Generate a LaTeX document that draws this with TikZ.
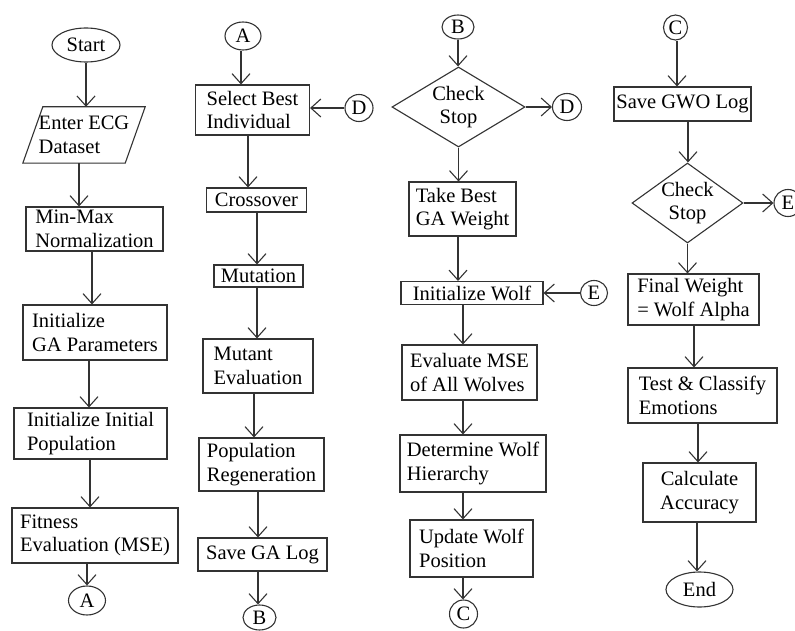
\documentclass[tikz,border=0pt]{standalone}
\usepackage{fontspec}
\setmainfont{Liberation Serif}
\usetikzlibrary{shapes.geometric,arrows.meta}
\newcommand\flowfont{\fontsize{20.5}{23.5}\selectfont}
\definecolor{ink}{gray}{0.2}
\tikzset{
  base/.style={draw=ink, line width=1.1pt, font=\flowfont, text=black},
  proc/.style={base, rectangle, align=left, inner sep=2pt},
  procc/.style={proc, align=center},
  term/.style={base, ellipse, inner sep=0pt},
  conn/.style={base, ellipse, inner sep=0pt},
  decide/.style={base, diamond, aspect=1.5, inner sep=-4pt, align=center},
  % input block: text box whose outline is drawn as a slanted parallelogram
  iobox/.style={rectangle, font=\flowfont, text=black, align=left, inner sep=2pt},
  slant/.style={draw=ink, line width=1.1pt, line join=miter},
  arr/.style={draw=ink, line width=1.1pt, -{Straight Barb[length=10pt,width=18pt]}},
}
\begin{document}
\begin{tikzpicture}[x=1pt,y=-1pt]
\useasboundingbox (0,0) rectangle (795,631);

% ---------- column 1: data preparation and GA initialisation ----------
\node[term, minimum width=68pt, minimum height=34pt] (start) at (86,45) {Start};
\node[iobox, minimum width=102pt, minimum height=56pt] (in) at (84,135) {Enter ECG\\Dataset};
\draw[slant] ([xshift=10pt]in.north west) -- ([xshift=10pt]in.north east)
  -- ([xshift=-10pt]in.south east) -- ([xshift=-10pt]in.south west) -- cycle;
\node[proc, minimum width=137pt, minimum height=44pt] (mm) at (94.5,229) {Min-Max\\Normalization};
\node[proc, minimum width=144pt, minimum height=55pt] (gap) at (95,332.5) {Initialize\\GA Parameters};
\node[proc, minimum width=153pt, minimum height=51pt] (pop) at (90.5,433.5) {Initialize Initial\\Population};
\node[proc, minimum width=166pt, minimum height=55pt] (fit) at (95,535.5) {Fitness\\Evaluation (MSE)};
\node[conn, minimum width=37pt, minimum height=29pt] (A1) at (87,600.5) {A};

\draw[arr] (start.south) -- (start.south |- in.north);
\draw[arr] ([xshift=-5pt]in.south) -- ([xshift=-5pt]in.south |- mm.north);
\draw[arr] ([xshift=-2.5pt]mm.south) -- ([xshift=-2.5pt]mm.south |- gap.north);
\draw[arr] ([xshift=-6pt]gap.south) -- ([xshift=-6pt]gap.south |- pop.north);
\draw[arr] ([xshift=-0.5pt]pop.south) -- ([xshift=-0.5pt]pop.south |- fit.north);
\draw[arr] ([xshift=-8pt]fit.south) -- ([xshift=-8pt]fit.south |- A1.north);

% ---------- column 2: GA loop ----------
\node[conn, minimum width=36pt, minimum height=28pt] (A2) at (243,36) {A};
\node[proc, minimum width=114pt, minimum height=50pt] (sel) at (252.5,110) {Select Best\\Individual};
\node[conn, minimum width=28pt, minimum height=27pt] (D1) at (359,108) {D};
\node[procc, minimum width=100pt, minimum height=24pt] (cross) at (256.5,200) {Crossover};
\node[procc, minimum width=89pt, minimum height=22pt] (mut) at (258.5,276) {Mutation};
\node[proc, minimum width=110pt, minimum height=54pt] (mev) at (258,366) {Mutant\\Evaluation};
\node[proc, minimum width=125pt, minimum height=53pt] (preg) at (261.5,464.5) {Population\\Regeneration};
\node[procc, minimum width=129pt, minimum height=33pt] (sga) at (262.5,554.5) {Save GA Log};
\node[conn, minimum width=33pt, minimum height=25pt] (B1) at (259.5,617.5) {B};

\draw[arr] ([xshift=-2pt]A2.south) -- ([xshift=-2pt]A2.south |- sel.north);
\draw[arr] (D1.west) -- (D1.west -| sel.east);
\draw[arr] ([xshift=-4.5pt]sel.south) -- ([xshift=-4.5pt]sel.south |- cross.north);
\draw[arr] ([xshift=0.5pt]cross.south) -- ([xshift=0.5pt]cross.south |- mut.north);
\draw[arr] ([xshift=-1.5pt]mut.south) -- ([xshift=-1.5pt]mut.south |- mev.north);
\draw[arr] ([xshift=-4pt]mev.south) -- ([xshift=-4pt]mev.south |- preg.north);
\draw[arr] ([xshift=-3.5pt]preg.south) -- ([xshift=-3.5pt]preg.south |- sga.north);
\draw[arr] ([xshift=-4.5pt]sga.south) -- ([xshift=-4.5pt]sga.south |- B1.north);

% ---------- column 3: hand-over to GWO ----------
\node[conn, minimum width=32pt, minimum height=24pt] (B2) at (458,27) {B};
\node[decide, minimum width=133pt, minimum height=80pt] (cs1) at (458.5,107) {Check\\Stop};
\node[conn, minimum width=29pt, minimum height=27pt] (D2) at (567,107) {D};
\node[proc, minimum width=107pt, minimum height=54pt] (tb) at (462.5,209) {Take Best\\GA Weight};
\node[procc, minimum width=142pt, minimum height=23pt] (iw) at (472,293) {Initialize Wolf};
\node[conn, minimum width=27pt, minimum height=25pt] (E1) at (594,293) {E};
\node[proc, minimum width=135pt, minimum height=55pt] (ev) at (469.5,372.5) {Evaluate MSE\\of All Wolves};
\node[proc, minimum width=146pt, minimum height=57pt] (dh) at (473,463.5) {Determine Wolf\\Hierarchy};
\node[proc, minimum width=123pt, minimum height=57pt] (uw) at (471.5,548.5) {Update Wolf\\Position};
\node[conn, minimum width=28pt, minimum height=28pt] (C1) at (463.5,614) {C};

\draw[arr] (B2.south) -- (B2.south |- cs1.north);
\draw[arr] (cs1.east) -- (cs1.east -| D2.west);
\draw[arr] (cs1.south) -- (cs1.south |- tb.north);
\draw[arr] ([xshift=-4.5pt]tb.south) -- ([xshift=-4.5pt]tb.south |- iw.north);
\draw[arr] (E1.west) -- (E1.west -| iw.east);
\draw[arr] ([xshift=-9pt]iw.south) -- ([xshift=-9pt]iw.south |- ev.north);
\draw[arr] ([xshift=-6.5pt]ev.south) -- ([xshift=-6.5pt]ev.south |- dh.north);
\draw[arr] ([xshift=-10pt]dh.south) -- ([xshift=-10pt]dh.south |- uw.north);
\draw[arr] ([xshift=-8.5pt]uw.south) -- ([xshift=-8.5pt]uw.south |- C1.north);

% ---------- column 4: GWO termination and evaluation ----------
\node[conn, minimum width=24pt, minimum height=25pt] (C2) at (675.5,27.5) {C};
\node[procc, minimum width=137pt, minimum height=34pt] (sgwo) at (682.5,104) {Save GWO Log};
\node[decide, minimum width=111pt, minimum height=80pt] (cs2) at (687.5,203) {Check\\Stop};
\node[conn, minimum width=28pt, minimum height=27pt] (E2) at (788,203) {E};
\node[proc, minimum width=131pt, minimum height=51pt] (fw) at (693.5,299.5) {Final Weight\\= Wolf Alpha};
\node[proc, minimum width=149pt, minimum height=55pt] (tc) at (702.5,395.5) {Test \& Classify\\Emotions};
\node[procc, minimum width=113pt, minimum height=59pt] (ca) at (699.5,492.5) {Calculate\\Accuracy};
\node[term, minimum width=67pt, minimum height=35pt] (end) at (699.5,589.5) {End};

\draw[arr] ([xshift=1.5pt]C2.south) -- ([xshift=1.5pt]C2.south |- sgwo.north);
\draw[arr] ([xshift=5.5pt]sgwo.south) -- ([xshift=5.5pt]sgwo.south |- cs2.north);
\draw[arr] (cs2.east) -- (cs2.east -| E2.west);
\draw[arr] (cs2.south) -- (cs2.south |- fw.north);
\draw[arr] ([xshift=0.5pt]fw.south) -- ([xshift=0.5pt]fw.south |- tc.north);
\draw[arr] ([xshift=-4.5pt]tc.south) -- ([xshift=-4.5pt]tc.south |- ca.north);
\draw[arr] ([xshift=-2.5pt]ca.south) -- ([xshift=-2.5pt]ca.south |- end.north);
\end{tikzpicture}
\end{document}
